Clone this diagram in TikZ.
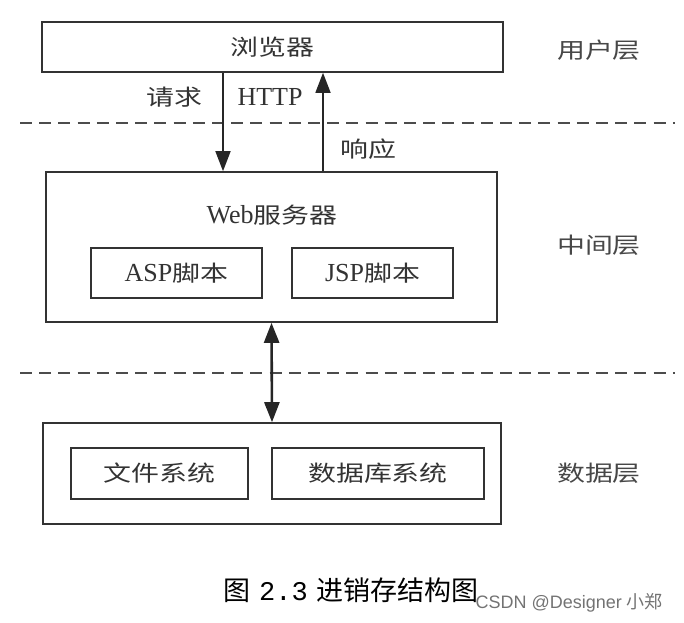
\documentclass[tikz,border=0pt]{standalone}
\usepackage{fontspec}
\setmainfont{Liberation Serif}
\setsansfont{Liberation Sans}
\setmonofont{Liberation Mono}
\newfontfamily\cjk[FakeStretch=1.27]{Noto Sans CJK SC}
\newfontfamily\cjkplain{Noto Sans CJK SC}
\usetikzlibrary{arrows.meta,positioning}

\begin{document}
\begin{tikzpicture}[x=0.5pt,y=-0.5pt, every node/.style={font=\fontsize{13}{14}\selectfont, text=black!80},
   box/.style={draw=black!80, line width=0.8pt, inner sep=0pt},
   zh/.style={font=\cjk\fontsize{11}{12}\selectfont},
   layer/.style={font=\cjk\fontsize{11}{12}\selectfont, text=black!72},
   link/.style={line width=0.8pt, draw=black!85, -{Triangle[length=10pt,width=7.5pt]}},
   sep/.style={dashed, dash pattern=on 6pt off 3.6pt, line width=0.8pt, draw=black!70}]
   \useasboundingbox (0,0) rectangle (684,622);
   % user layer
   \node[box, zh, minimum width=230.5pt, minimum height=25pt] (browser) at (272.5,47) {浏览器};
   \node[layer] (userl) at (599,50) {用户层};
   % middle layer
   \node[box, minimum width=225.5pt, minimum height=75pt] (server) at (271.5,247) {};
   \node (servert) at (272,215) {Web{\cjk\fontsize{11}{12}\selectfont 服务器}};
   \node[box, minimum width=85.5pt, minimum height=25pt] (asp) at (176.5,273) {ASP{\cjk\fontsize{11}{12}\selectfont 脚本}};
   \node[box, minimum width=80.5pt, minimum height=25pt] (jsp) at (372.5,273) {JSP{\cjk\fontsize{11}{12}\selectfont 脚本}};
   \node[layer] (midl) at (599,245) {中间层};
   % data layer
   \node[box, minimum width=229pt, minimum height=50.5pt] (data) at (272,473.5) {};
   \node[box, zh, minimum width=88.5pt, minimum height=25.5pt] (files) at (159.5,473.5) {文件系统};
   \node[box, zh, minimum width=106pt, minimum height=25.5pt] (db) at (378,473.5) {数据库系统};
   \node[layer] (datal) at (599,473) {数据层};
   % separators
   \draw[sep] (20,123) -- (675,123);
   \draw[sep] (20,373) -- (675,373);
   % connectors
   \draw[link] ([xshift=-24.75pt]browser.south) -- ([xshift=-24.25pt]server.north);
   \draw[link] ([xshift=25.75pt]server.north) -- ([xshift=25.25pt]browser.south);
   \draw[link, line width=1.3pt, {Triangle[length=10pt,width=7.5pt]}-{Triangle[length=10pt,width=7.5pt]}] (server.south) -- (data.north);
   \node[zh] (req) at (174.5,97) {请求};
   \node (http) at (270,97) {HTTP};
   \node[zh] (resp) at (368,149) {响应};
   % caption
   \node[font=\cjkplain\fontsize{13.5}{15}\selectfont, text=black] (caption) at (351,590) {图\hspace{4.5pt}{\ttfamily 2.3}\hspace{4.5pt}进销存结构图};
   \node[font=\sffamily\fontsize{9}{10}\selectfont, text=black!55, anchor=east] (mark) at (670,603) {CSDN @Designer {\cjkplain 小郑}};
\end{tikzpicture}
\end{document}
